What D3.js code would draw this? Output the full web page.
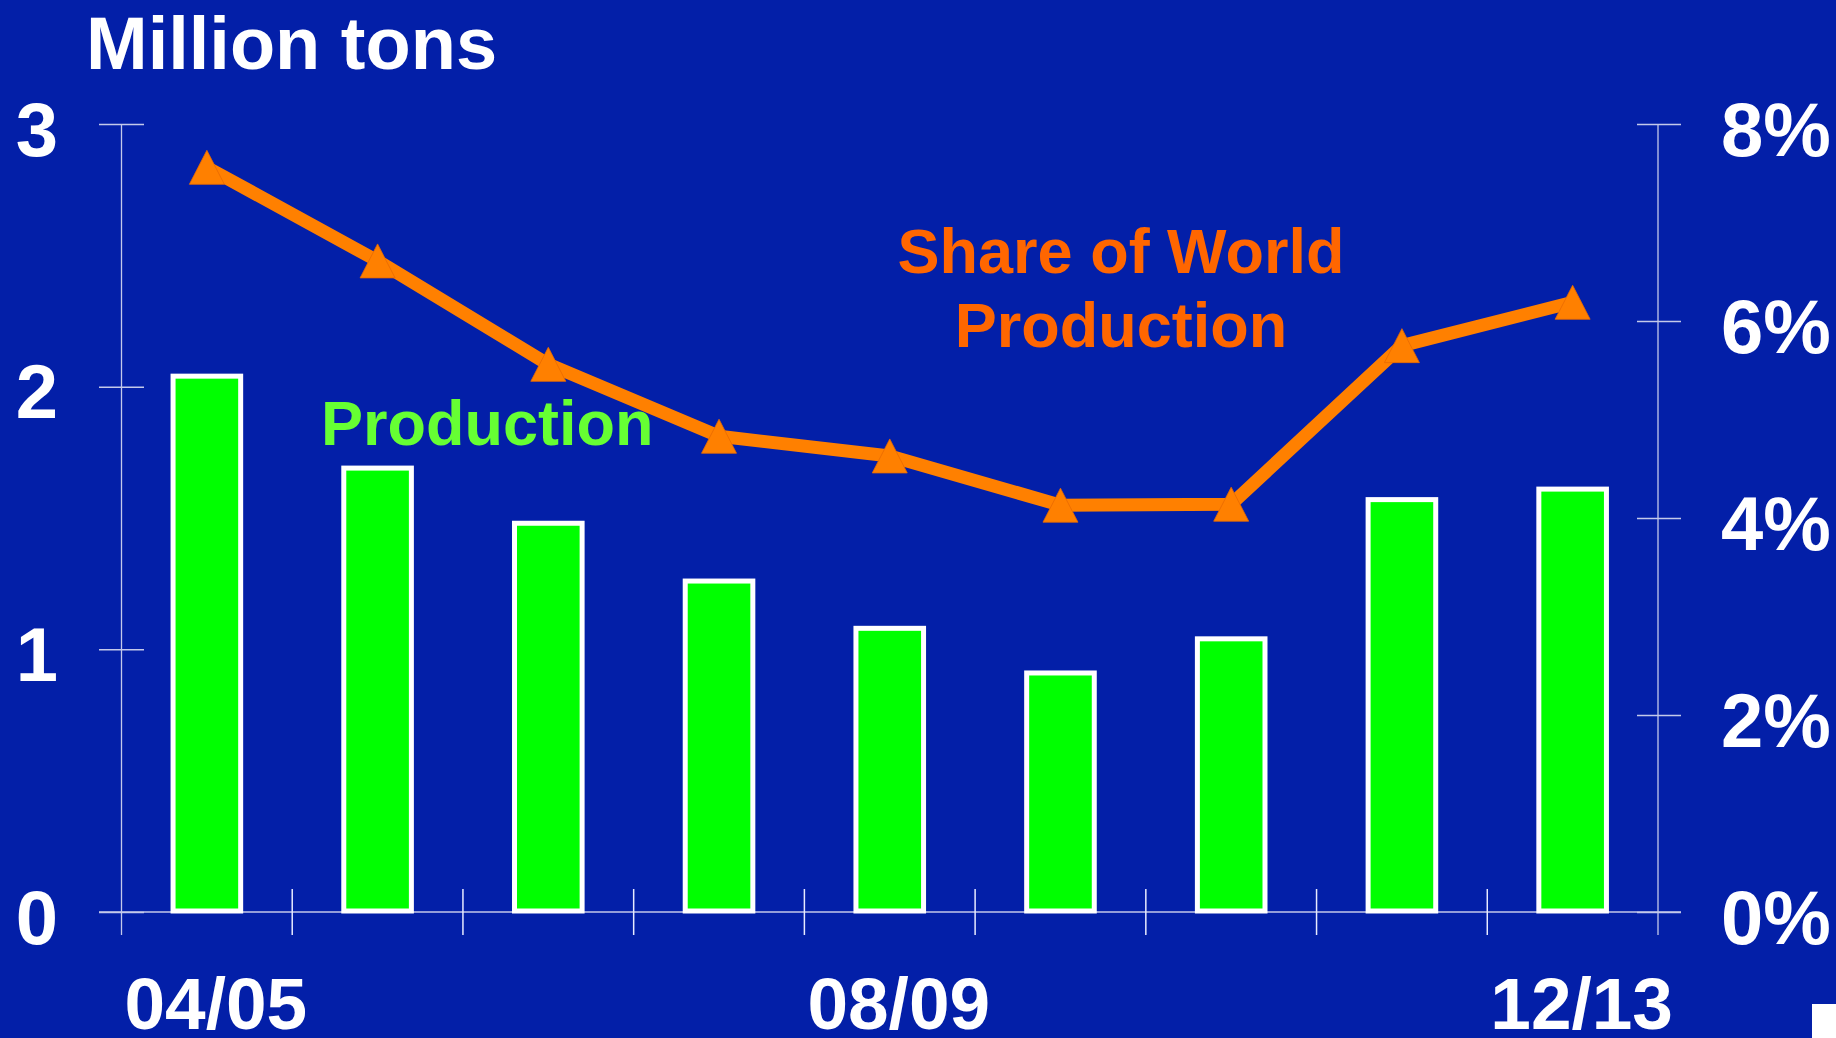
<!DOCTYPE html>
<html>
<head>
<meta charset="utf-8">
<script src="https://cdn.jsdelivr.net/npm/d3@7"></script>
<style>
  html, body { margin: 0; padding: 0; background: #031fa8; }
  svg { display: block; }
  text { font-family: "Liberation Sans", Arial, sans-serif; font-weight: bold; }
</style>
</head>
<body>
<svg id="chart" width="1836" height="1038"></svg>
<script>
// ---- data ----
const categories = ["04/05", "05/06", "06/07", "07/08", "08/09", "09/10", "10/11", "11/12", "12/13"];
const production = [2.04, 1.69, 1.48, 1.26, 1.08, 0.91, 1.04, 1.57, 1.61];   // million tons
const worldShare = [7.56, 6.61, 5.56, 4.83, 4.63, 4.13, 4.14, 5.75, 6.19];   // percent
const leftTicks = [0, 1, 2, 3];
const rightTicks = [0, 2, 4, 6, 8];
const xLabels = ["04/05", "08/09", "12/13"];

// ---- layout ----
const W = 1836, H = 1038;
const plotLeft = 121.5, plotRight = 1658, plotTop = 124, plotBottom = 912;
const bg = "#031fa8", axisCol = "#c4c9ea", tickCol = "#e8eaff";
const barFill = "#00ff00", lineCol = "#ff8000";

const svg = d3.select("#chart");
svg.append("rect").attr("width", W).attr("height", H).attr("fill", bg);

const x = d3.scaleBand().domain(categories).range([plotLeft, plotRight]).padding(0);
const yL = d3.scaleLinear().domain([0, 3]).range([plotBottom, plotTop]);
const yR = d3.scaleLinear().domain([0, 8]).range([plotBottom, plotTop]);
const bw = x.bandwidth();
const cx = c => x(c) + bw / 2;

// ---- left axis ----
const gL = svg.append("g").attr("transform", `translate(${plotLeft + 22.5},0)`)
  .call(d3.axisLeft(yL).tickValues(leftTicks).tickSize(45).tickPadding(41).tickFormat(d3.format("d")));
gL.select(".domain").remove();
gL.selectAll(".tick line").attr("stroke", axisCol).attr("stroke-width", 1.5);
gL.selectAll(".tick text").attr("fill", "#fff").attr("font-size", 76).attr("dy", "0.41em")
  .style("font-family", "'Liberation Sans', Arial, sans-serif").style("font-weight", "bold");
svg.append("line").attr("x1", plotLeft).attr("x2", plotLeft)
  .attr("y1", yL(3)).attr("y2", plotBottom + 23).attr("stroke", axisCol).attr("stroke-width", 1.3);

// ---- right axis ----
const gR = svg.append("g").attr("transform", `translate(${plotRight - 21},0)`)
  .call(d3.axisRight(yR).tickValues(rightTicks).tickSize(44).tickPadding(40).tickFormat(d => d + "%"));
gR.select(".domain").remove();
gR.selectAll(".tick line").attr("stroke", axisCol).attr("stroke-width", 1.5);
gR.selectAll(".tick text").attr("fill", "#fff").attr("font-size", 76).attr("dy", "0.41em")
  .style("font-family", "'Liberation Sans', Arial, sans-serif").style("font-weight", "bold");
svg.append("line").attr("x1", plotRight).attr("x2", plotRight)
  .attr("y1", yR(8)).attr("y2", plotBottom + 23).attr("stroke", axisCol).attr("stroke-width", 1.3);

// ---- horizontal axis ----
svg.append("line").attr("x1", plotLeft - 22.5).attr("x2", plotRight + 23)
  .attr("y1", yL(0)).attr("y2", yL(0)).attr("stroke", axisCol).attr("stroke-width", 1.5);
const bounds = categories.slice(1).map(c => x(c));
svg.append("g").selectAll("line").data(bounds).join("line")
  .attr("x1", d => d).attr("x2", d => d)
  .attr("y1", plotBottom - 23).attr("y2", plotBottom + 23)
  .attr("stroke", tickCol).attr("stroke-width", 1.5);

svg.append("g").selectAll("text").data(xLabels).join("text")
  .attr("x", d => cx(d) + 9).attr("y", 1029)
  .attr("text-anchor", "middle").attr("fill", "#fff").attr("font-size", 73)
  .text(d => d);

// ---- bars ----
const barW = bw * 0.396;
svg.append("g").selectAll("rect").data(categories).join("rect")
  .attr("x", c => cx(c) - barW / 2)
  .attr("width", barW)
  .attr("y", (c, i) => yL(production[i]))
  .attr("height", (c, i) => yL(0) - yL(production[i]) - 1)
  .attr("fill", barFill).attr("stroke", "#fff").attr("stroke-width", 5);

// ---- line ----
const line = d3.line().x((d, i) => cx(categories[i])).y(d => yR(d));
svg.append("path").datum(worldShare).attr("d", line)
  .attr("fill", "none").attr("stroke", lineCol).attr("stroke-width", 13)
  .attr("stroke-linejoin", "round");

const tri = "M0,-17L17.5,17L-17.5,17Z";
svg.append("g").selectAll("path").data(worldShare).join("path")
  .attr("d", tri)
  .attr("transform", (d, i) => `translate(${cx(categories[i])},${yR(d)})`)
  .attr("fill", lineCol).attr("stroke", "#e86a00").attr("stroke-width", 0.8);

// ---- text labels ----
svg.append("text").attr("x", 86).attr("y", 69).attr("fill", "#fff").attr("font-size", 74)
  .text("Million tons");
svg.append("text").attr("x", 321).attr("y", 445).attr("fill", "#66ff33").attr("font-size", 63)
  .text("Production");
const share = svg.append("text").attr("fill", "#ff6600").attr("font-size", 63).attr("text-anchor", "middle");
share.append("tspan").attr("x", 1121).attr("y", 273).text("Share of World");
share.append("tspan").attr("x", 1121).attr("y", 347).text("Production");

// corner artifact
svg.append("rect").attr("x", 1812).attr("y", 1004).attr("width", 24).attr("height", 34).attr("fill", "#fff");
</script>
</body>
</html>
